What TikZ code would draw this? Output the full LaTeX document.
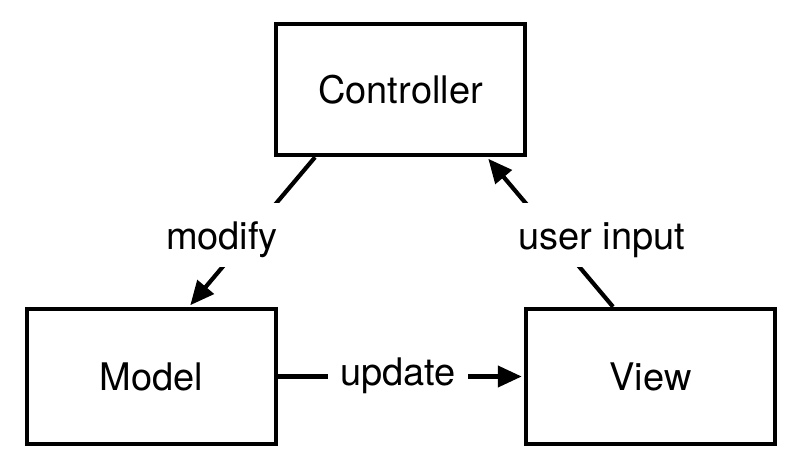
\documentclass[tikz,border=0pt]{standalone}
\usepackage{fontspec}
\setmainfont{TeX Gyre Heros}
\usetikzlibrary{arrows.meta}
\begin{document}
\begin{tikzpicture}[x=1pt,y=-1pt,
  font=\fontsize{38}{45}\selectfont,
  block/.style={draw, line width=4.5pt, fill=white, inner sep=0pt,
                minimum width=249pt, minimum height=133pt},
  link/.style={line width=4.2pt, -{Triangle[length=24pt,width=21pt]}, shorten >=2pt},
  tag/.style={fill=white, inner ysep=0pt, inner xsep=10pt, anchor=base}]
  \useasboundingbox (0,0) rectangle (804,468);

  % the three components
  \node[block, minimum height=131pt] (ctrl) at (400.5,89.5) {Controller};
  \node[block, minimum height=135pt] (model) at (151.5,376.5) {Model};
  \node[block, minimum height=135pt] (view) at (650.5,376.5) {View};

  % connection points on the box borders
  \coordinate (c1) at ([xshift=-85.5pt]ctrl.south);
  \coordinate (c2) at ([xshift=86.5pt]ctrl.south);
  \coordinate (m1) at ([xshift=37.5pt]model.north);
  \coordinate (v1) at ([xshift=-37.5pt]view.north);

  % connectors
  \draw[link] (c1) -- (m1);
  \draw[link] (v1) -- (c2);
  \draw[link] (model.east) -- (view.west);

  % connector labels
  \node[tag, text height=46pt, text depth=18pt] (lmod) at (222,249) {modify};
  \node[tag, text height=46pt, text depth=18pt] (luser) at (602,249) {user input};
  \node[tag, inner xsep=12pt, text height=30pt, text depth=10pt] (lupd) at (398,385) {update};
\end{tikzpicture}
\end{document}
